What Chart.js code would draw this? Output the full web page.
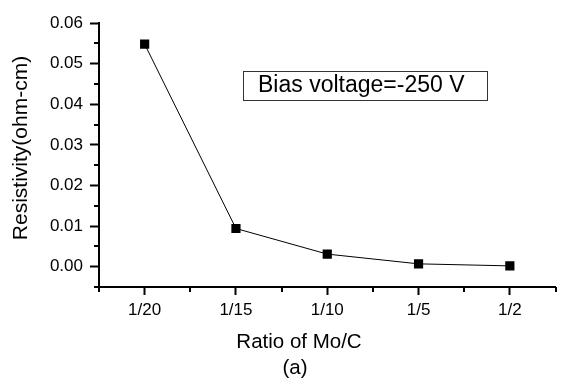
<!DOCTYPE html>
<html>
<head>
<meta charset="utf-8">
<script src="https://cdn.jsdelivr.net/npm/chart.js@4.4.1/dist/chart.umd.min.js"></script>
<style>
  body { margin: 0; background: #fff; }
  #wrap { width: 562px; height: 385px; }
</style>
</head>
<body>
<div id="wrap"><canvas id="resChart" width="562" height="385"></canvas></div>
<script>
const ratios = ["1/20", "1/15", "1/10", "1/5", "1/2"];
const resistivity = [0.0548, 0.0094, 0.0031, 0.0007, 0.0002];
const yTicks = [0.0, 0.01, 0.02, 0.03, 0.04, 0.05, 0.06];
const FONT = "'Liberation Sans', Arial, sans-serif";

Chart.defaults.font.family = FONT;
Chart.defaults.font.size = 17;
Chart.defaults.color = "#000";

function isMajorY(v) {
  return yTicks.some((t) => Math.abs(t - v) < 1e-9);
}
function isMajorX(v) {
  return Math.abs(v - Math.round(v)) < 1e-9;
}

// minor ticks + titles + the bias voltage box
const extras = {
  id: "extras",
  afterDraw(chart) {
    const ctx = chart.ctx;
    const xs = chart.scales.x;
    const ys = chart.scales.y;
    const area = chart.chartArea;
    ctx.save();
    ctx.strokeStyle = "#000";
    ctx.lineWidth = 2;
    ctx.beginPath();
    xs.ticks.forEach((t) => {
      if (isMajorX(t.value)) return;
      const px = Math.round(xs.getPixelForValue(t.value));
      ctx.moveTo(px, area.bottom);
      ctx.lineTo(px, area.bottom + 5);
    });
    ys.ticks.forEach((t) => {
      if (isMajorY(t.value)) return;
      const py = Math.round(ys.getPixelForValue(t.value));
      ctx.moveTo(area.left, py);
      ctx.lineTo(area.left - 5, py);
    });
    ctx.stroke();

    ctx.fillStyle = "#000";
    ctx.textAlign = "center";
    ctx.textBaseline = "middle";
    ctx.font = "20.5px " + FONT;
    ctx.fillText("Ratio of Mo/C", 299, 342);
    ctx.fillText("(a)", 295, 368);

    ctx.save();
    ctx.translate(21, 148);
    ctx.rotate(-Math.PI / 2);
    ctx.font = "21px " + FONT;
    ctx.fillText("Resistivity(ohm-cm)", 0, 0);
    ctx.restore();

    ctx.lineWidth = 1;
    ctx.strokeStyle = "#333";
    ctx.strokeRect(243.5, 71.5, 244, 29);
    ctx.textAlign = "left";
    ctx.font = "23px " + FONT;
    ctx.fillText("Bias voltage=-250 V", 258, 86);
    ctx.restore();
  },
};

new Chart(document.getElementById("resChart"), {
  type: "line",
  data: {
    datasets: [
      {
        data: resistivity.map((v, i) => ({ x: i, y: v })),
        borderColor: "#000",
        borderWidth: 1,
        backgroundColor: "#000",
        pointStyle: "rect",
        pointRadius: 6.5,
        pointBorderWidth: 0,
        fill: false,
        tension: 0,
      },
    ],
  },
  options: {
    responsive: false,
    animation: false,
    layout: { padding: { top: 23, right: 2, left: 0, bottom: 0 } },
    plugins: { legend: { display: false }, tooltip: { enabled: false } },
    scales: {
      x: {
        type: "linear",
        min: -0.5,
        max: 4.5,
        afterFit: (s) => { s.height = 98; },
        border: { color: "#000", width: 2 },
        grid: {
          drawOnChartArea: false,
          tickLength: 8,
          tickWidth: 2,
          tickColor: (c) => (c.tick && isMajorX(c.tick.value) ? "#000" : "rgba(0,0,0,0)"),
        },
        ticks: {
          stepSize: 0.5,
          autoSkip: false,
          maxRotation: 0,
          padding: 5,
          color: "#000",
          font: { size: 17 },
          callback: (v) => (isMajorX(v) ? ratios[Math.round(v)] || "" : ""),
        },
      },
      y: {
        min: -0.005,
        max: 0.06,
        afterFit: (s) => { s.width = 99; },
        border: { color: "#000", width: 2 },
        grid: {
          drawOnChartArea: false,
          tickLength: 9,
          tickWidth: 2,
          tickColor: (c) => (c.tick && isMajorY(c.tick.value) ? "#000" : "rgba(0,0,0,0)"),
        },
        ticks: {
          stepSize: 0.005,
          autoSkip: false,
          padding: 7,
          color: "#000",
          font: { size: 17 },
          callback: (v) => (isMajorY(v) ? v.toFixed(2) : ""),
        },
      },
    },
  },
  plugins: [extras],
});
</script>
</body>
</html>
